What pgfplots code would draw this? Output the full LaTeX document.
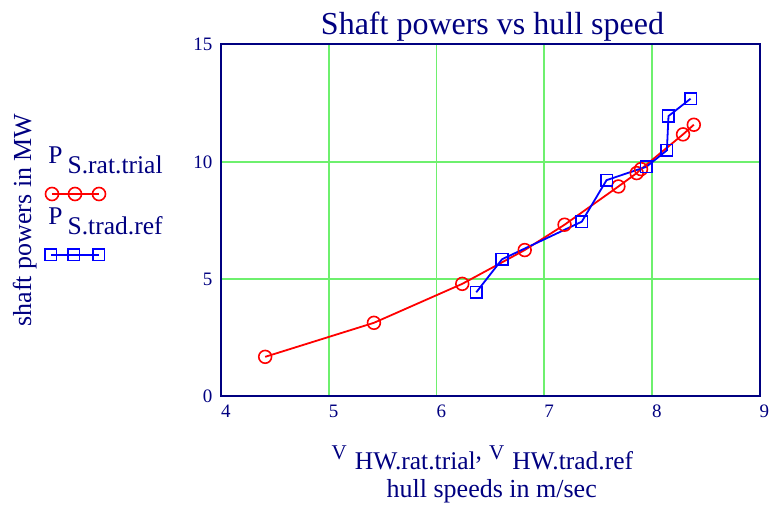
\documentclass[border=0pt]{standalone}
\usepackage{fontspec}
\setmainfont{Liberation Serif}
\usepackage{pgfplots}
\pgfplotsset{compat=1.18}
\definecolor{navy}{RGB}{0,0,128}
\definecolor{gridgreen}{RGB}{110,240,110}
\definecolor{mcred}{RGB}{255,0,0}
\definecolor{mcblue}{RGB}{0,0,255}

% rated trial vs traditional reference
\pgfplotstableread{
v P
4.41 1.69
5.42 3.14
6.24 4.80
6.82 6.24
7.19 7.32
7.69 8.95
7.86 9.52
7.90 9.69
8.29 11.17
8.39 11.58
}\rattrial
\pgfplotstableread{
v P
6.37 4.44
6.61 5.85
7.35 7.45
7.58 9.22
7.95 9.79
8.14 10.49
8.155 11.95
8.36 12.69
}\tradref

\begin{document}
\begin{tikzpicture}
\useasboundingbox (0,0) rectangle (771pt,510pt);
\begin{axis}[
  at={(221pt,113.5pt)}, anchor=south west,
  width=538.5pt, height=352pt, scale only axis,
  xmin=4, xmax=9, ymin=0, ymax=15,
  xtick={4,5,6,7,8,9}, ytick={0,5,10,15},
  grid=major, grid style={gridgreen, line width=1.6pt},
  axis line style={navy, line width=2pt},
  major tick length=0pt,
  tick label style={navy, font=\fontsize{19}{21}\selectfont},
  /pgf/number format/assume math mode=true,
  xticklabel style={anchor=north west, inner sep=0pt, yshift=-8.5pt},
  yticklabel style={anchor=east, inner sep=0pt, xshift=-8.5pt},
  legend style={at={(-0.33612,0.72869)}, anchor=north west, draw=none, fill=none,
    inner sep=0pt, outer sep=0pt, nodes={inner sep=0pt, outer sep=0pt},
    column sep=0pt, row sep=0pt},
]
\addplot[mcred, line width=1.8pt, mark=o, mark size=6.4pt,
  mark options={line width=1.6pt}, forget plot] table[x=v, y=P] {\rattrial};
\addplot[mcblue, line width=1.8pt, mark=square, mark size=5.8pt,
  mark options={line width=1.6pt}, forget plot] table[x=v, y=P] {\tradref};
\addlegendimage{legend image code/.code={
  \begin{scope}[x=1pt,y=1pt]
  \path[draw=none, fill=none] (0,0) rectangle (130,125);
  \draw[mcred, line width=1.8pt, mark=o, mark size=6.5pt, mark options={line width=1.6pt}]
    plot coordinates {(12,71) (35,71) (59,71)};
  \draw[mcblue, line width=1.8pt, mark=square, mark size=5.7pt, mark options={line width=1.6pt}]
    plot coordinates {(11,10) (34,10) (59,10)};
  \node[anchor=base west, inner sep=0pt, text=navy, font=\fontsize{25.5}{28}\selectfont]
    at (8.5,101) {P\hspace{5pt}\raisebox{-10pt}{S.rat.trial}};
  \node[anchor=base west, inner sep=0pt, text=navy, font=\fontsize{25.5}{28}\selectfont]
    at (8.5,40) {P\hspace{5pt}\raisebox{-10pt}{S.trad.ref}};
  \end{scope}
}}
\addlegendentry{}
\end{axis}
\node[anchor=base, inner sep=0pt, text=navy, font=\fontsize{32}{36}\selectfont]
  at (492.5pt,475pt) {Shaft powers vs hull speed};
\node[rotate=90, anchor=base, inner sep=0pt, text=navy, font=\fontsize{26}{30}\selectfont]
  at (31pt,290pt) {shaft powers in MW};
\node[anchor=base west, inner sep=0pt, text=navy, font=\fontsize{25.5}{28}\selectfont]
  at (331.5pt,50pt) {{\fontsize{21}{24}\selectfont V}\hspace{8pt}\raisebox{-10pt}{HW.rat.trial},\hspace{7pt}{\fontsize{21}{24}\selectfont V}\hspace{8pt}\raisebox{-10pt}{HW.trad.ref}};
\node[anchor=base, inner sep=0pt, text=navy, font=\fontsize{26}{30}\selectfont]
  at (491.7pt,12.5pt) {hull speeds in m/sec};
\end{tikzpicture}
\end{document}
